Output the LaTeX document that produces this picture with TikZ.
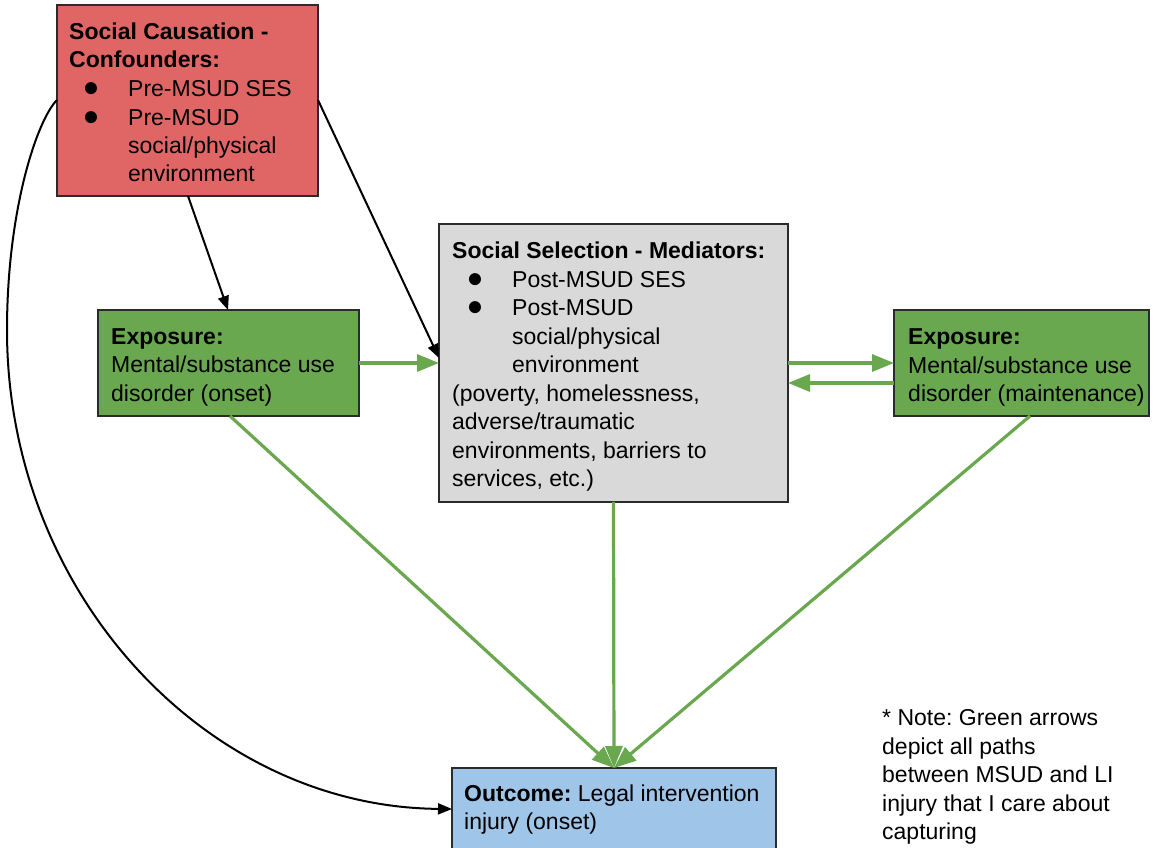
\documentclass[tikz,border=0pt]{standalone}
\usepackage{fontspec}
\setmainfont{Liberation Sans}
\usetikzlibrary{arrows.meta}
\definecolor{redfill}{HTML}{E06666}
\definecolor{grayfill}{HTML}{D9D9D9}
\definecolor{greenfill}{HTML}{6AA84F}
\definecolor{bluefill}{HTML}{9FC5E8}
\definecolor{arrowgreen}{HTML}{6AA84F}
\definecolor{boxline}{HTML}{2B2B2B}
\frenchspacing
\tikzset{
  box/.style={draw=boxline, line width=1.2pt, anchor=north west, inner sep=0pt, outer sep=0pt},
  lbl/.style={anchor=base west, inner sep=0pt, font=\fontsize{23}{28.5}\selectfont\frenchspacing},
  bul/.style={anchor=base, inner sep=0pt, font=\fontsize{28}{30}\selectfont},
  blk/.style={draw=black, line width=2pt, -{Triangle[length=14pt,width=11pt]}},
  grn/.style={draw=arrowgreen, line width=3.2pt, -{Triangle[length=22pt,width=17pt]}},
}
\begin{document}
\begin{tikzpicture}[x=1pt,y=1pt]
\useasboundingbox (0,0) rectangle (1159,848);
\fill[white] (0,0) rectangle (1159,848);

% boxes
\node[box, fill=redfill, minimum width=261pt, minimum height=191pt] (red) at (57,843) {};
\node[box, fill=grayfill, minimum width=349pt, minimum height=278pt] (gray) at (439,624) {};
\node[box, fill=greenfill, minimum width=261pt, minimum height=106pt] (gl) at (98,538) {};
\node[box, fill=greenfill, minimum width=255pt, minimum height=106pt] (gr) at (894,538) {};
\node[box, fill=bluefill, minimum width=324pt, minimum height=82pt] (blue) at (452,80) {};

% red box text
\node[lbl] (r1) at (69,808) {\textbf{Social Causation -}};
\node[lbl] (r2) at (69,780) {\textbf{Confounders:}};
\node[bul] (rb1) at (91,751) {●};
\node[lbl] (r3) at (128,751) {Pre-MSUD SES};
\node[bul] (rb2) at (91,722) {●};
\node[lbl] (r4) at (128,722) {Pre-MSUD};
\node[lbl] (r5) at (128,694) {social/physical};
\node[lbl] (r6) at (128,666) {environment};

% gray box text
\node[lbl] (g1) at (452,589) {\textbf{Social Selection - Mediators:}};
\node[bul] (gb1) at (475,560.5) {●};
\node[lbl] (g2) at (512,560.5) {Post-MSUD SES};
\node[bul] (gb2) at (475,532) {●};
\node[lbl] (g3) at (512,532) {Post-MSUD};
\node[lbl] (g4) at (512,503.5) {social/physical};
\node[lbl] (g5) at (512,475) {environment};
\node[lbl] (g6) at (452,446.5) {(poverty, homelessness,};
\node[lbl] (g7) at (452,418) {adverse/traumatic};
\node[lbl] (g8) at (452,389.5) {environments, barriers to};
\node[lbl] (g9) at (452,361) {services, etc.)};

% green left text
\node[lbl] (l1) at (111,503) {\textbf{Exposure:}};
\node[lbl] (l2) at (111,475) {Mental/substance use};
\node[lbl] (l3) at (111,446) {disorder (onset)};

% green right text
\node[lbl] (m1) at (908,503) {\textbf{Exposure:}};
\node[lbl] (m2) at (908,474.5) {Mental/substance use};
\node[lbl] (m3) at (908,446) {disorder (maintenance)};

% blue text
\node[lbl] (o1) at (464,46) {\textbf{Outcome:} Legal intervention};
\node[lbl] (o2) at (464,18) {injury (onset)};

% note
\node[lbl] (n1) at (882,122) {* Note: Green arrows};
\node[lbl] (n2) at (882,93) {depict all paths};
\node[lbl] (n3) at (882,65) {between MSUD and LI};
\node[lbl] (n4) at (882,36) {injury that I care about};
\node[lbl] (n5) at (882,8) {capturing};

% black arrows
\draw[blk] ([xshift=131pt]red.south west) -- ([xshift=130pt]gl.north west);
\draw[blk] ([yshift=-95pt]red.north east) -- ([yshift=-134pt]gray.north west);
\draw[blk] ([yshift=-95pt]red.north west) .. controls +(-20,-20) and (7,638) .. (7,518)
  .. controls (7,255) and (206,41) .. (blue.west);

% green arrows
\draw[grn] (gl.east) -- (gray.west);
\draw[grn] (gray.east) -- (gr.west);
\draw[grn] ([yshift=-20pt]gr.west) -- ([yshift=-20pt]gray.east);
\draw[grn] ([xshift=132pt]gl.south west) -- (blue.north);
\draw[grn] (gray.south) -- (blue.north);
\draw[grn] ([xshift=136pt]gr.south west) -- (blue.north);
\end{tikzpicture}
\end{document}
